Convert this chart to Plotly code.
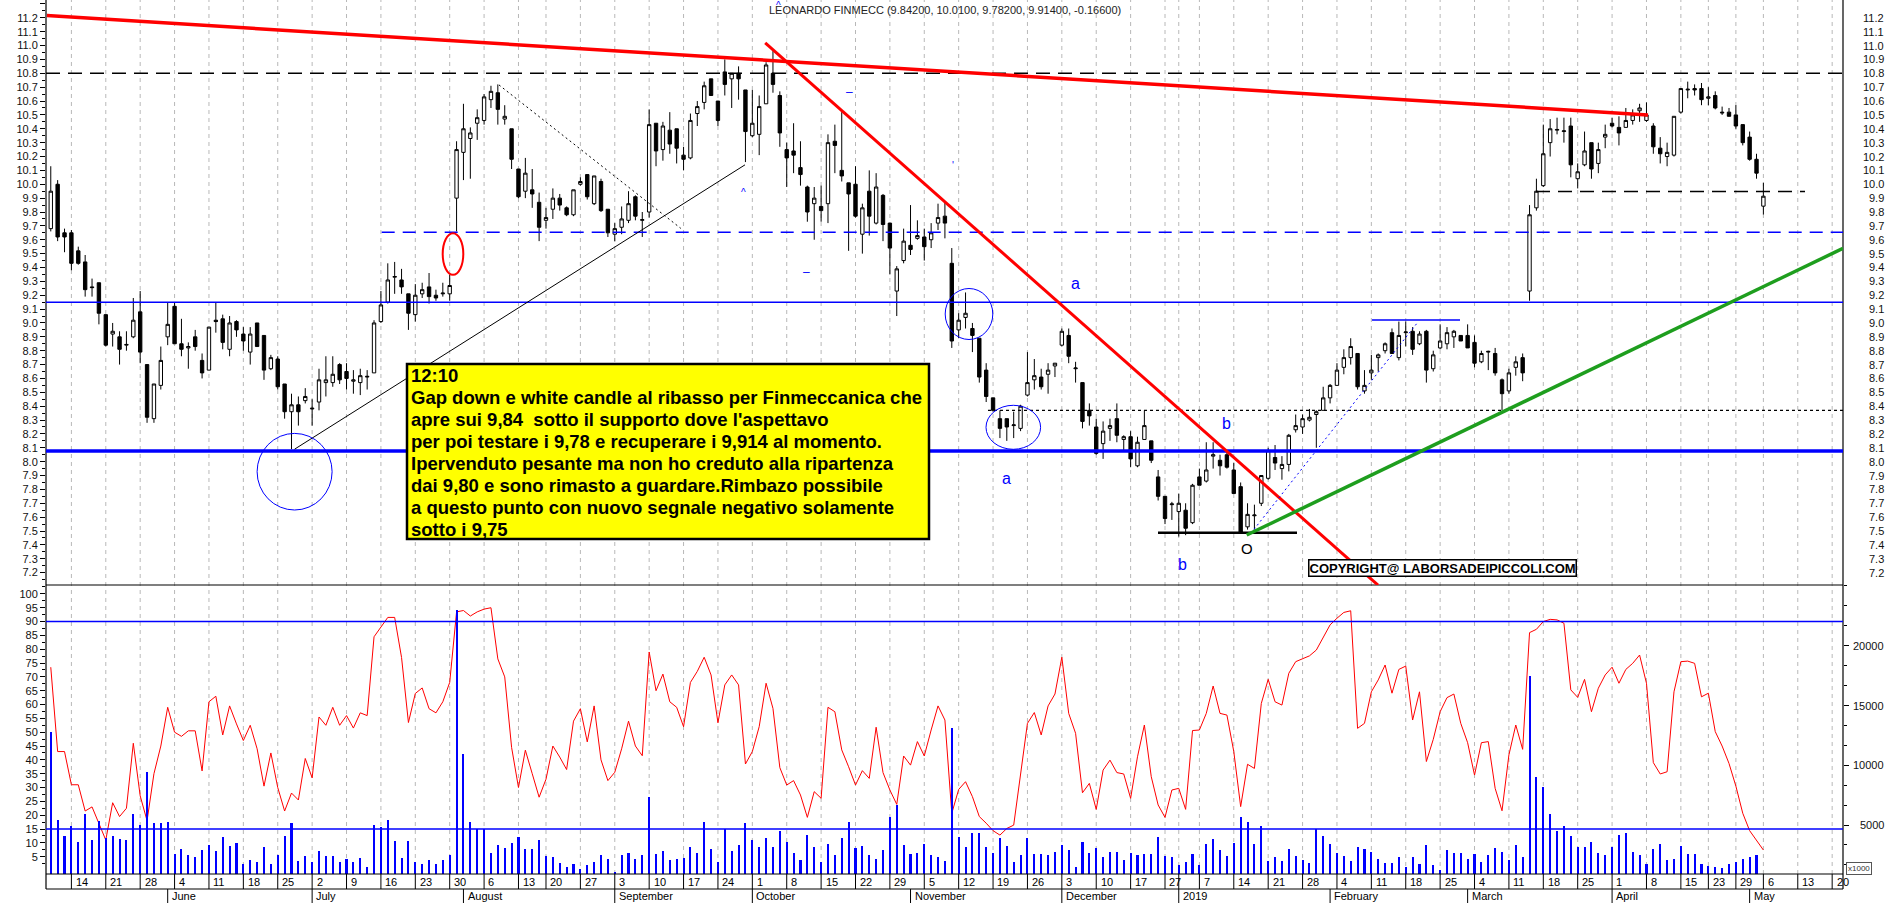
import plotly.graph_objects as go
import pandas as pd

# ---------------- data ----------------
opens = [
    9.68, 10.00, 9.65, 9.65, 9.52, 9.44, 9.26, 9.29, 9.06, 8.92,
    8.90, 8.84, 8.90, 9.08, 8.70, 8.31, 8.55, 8.90, 9.12, 8.85,
    8.82, 8.90, 8.73, 8.66, 9.02, 9.03, 8.81, 9.01, 8.92, 8.79,
    9.00, 8.91, 8.67, 8.74, 8.56, 8.36, 8.41, 8.44, 8.38, 8.43,
    8.57, 8.57, 8.70, 8.65, 8.58, 8.57, 8.61, 8.64, 9.01, 9.15,
    9.33, 9.31, 9.21, 9.06, 9.21, 9.26, 9.20, 9.21, 9.21, 9.90,
    10.23, 10.33, 10.44, 10.46, 10.61, 10.66, 10.47, 10.40, 10.11, 9.95,
    9.96, 9.87, 9.74, 9.82, 9.90, 9.83, 9.78, 10.00, 10.07, 9.86,
    10.02, 9.82, 9.64, 9.69, 9.74, 9.91, 9.74, 9.80, 10.44, 10.25,
    10.39, 10.40, 10.21, 10.19, 10.51, 10.59, 10.76, 10.60, 10.81, 10.76,
    10.80, 10.68, 10.35, 10.36, 10.58, 10.80, 10.64, 10.25, 10.24, 10.12,
    9.98, 9.86, 9.84, 9.86, 10.31, 10.10, 10.01, 10.00, 9.64, 9.95,
    9.72, 9.92, 9.72, 9.23, 9.45, 9.56, 9.61, 9.62, 9.60, 9.72,
    9.77, 9.43, 8.95, 9.04, 8.96, 8.89, 8.66, 8.46, 8.31, 8.31,
    8.26, 8.24, 8.48, 8.59, 8.61, 8.63, 8.69, 8.84, 8.91, 8.67,
    8.57, 8.37, 8.25, 8.13, 8.24, 8.31, 8.16, 8.18, 7.97, 8.16,
    8.15, 7.89, 7.75, 7.69, 7.64, 7.65, 7.56, 7.89, 7.86, 8.04,
    8.01, 8.05, 7.94, 7.82, 7.53, 7.61, 7.70, 7.88, 8.03, 7.95,
    7.98, 8.23, 8.25, 8.30, 8.34, 8.37, 8.46, 8.55, 8.68, 8.75,
    8.78, 8.51, 8.64, 8.75, 8.80, 8.93, 8.75, 8.93, 8.94, 8.85,
    8.94, 8.67, 8.82, 8.85, 8.90, 8.91, 8.91, 8.86, 8.72, 8.79,
    8.78, 8.59, 8.51, 8.68, 8.75, 9.23, 9.83, 9.99, 10.30, 10.39,
    10.38, 10.42, 10.04, 10.14, 10.30, 10.15, 10.34, 10.44, 10.41, 10.41,
    10.46, 10.53, 10.46, 10.42, 10.26, 10.20, 10.21, 10.52, 10.68, 10.69,
    10.69, 10.62, 10.64, 10.52, 10.52, 10.50, 10.43, 10.34, 10.18, 9.842,
]
highs = [
    10.13, 10.03, 9.68, 9.67, 9.55, 9.49, 9.32, 9.29, 9.06, 9.00,
    8.94, 8.94, 9.18, 9.23, 8.70, 8.56, 8.83, 9.15, 9.15, 9.03,
    8.86, 8.95, 8.78, 8.97, 9.15, 9.06, 9.05, 9.02, 8.97, 8.97,
    9.00, 8.91, 8.77, 8.76, 8.56, 8.49, 8.47, 8.53, 8.45, 8.67,
    8.76, 8.76, 8.71, 8.71, 8.66, 8.67, 8.66, 9.02, 9.23, 9.43,
    9.44, 9.39, 9.21, 9.28, 9.29, 9.36, 9.24, 9.29, 9.35, 10.31,
    10.58, 10.41, 10.54, 10.65, 10.71, 10.72, 10.57, 10.40, 10.11, 10.19,
    10.11, 9.94, 9.83, 9.97, 9.93, 9.84, 9.96, 10.05, 10.07, 10.06,
    10.04, 9.82, 9.72, 9.84, 9.95, 9.92, 9.80, 10.54, 10.44, 10.45,
    10.52, 10.40, 10.27, 10.51, 10.60, 10.74, 10.76, 10.60, 10.90, 10.80,
    10.85, 10.68, 10.68, 10.64, 10.88, 10.96, 10.67, 10.30, 10.44, 10.31,
    9.99, 9.98, 9.99, 10.36, 10.43, 10.52, 10.01, 10.13, 9.86, 10.10,
    10.08, 9.93, 9.72, 9.41, 9.68, 9.85, 9.74, 9.68, 9.72, 9.86,
    9.87, 9.54, 9.07, 9.22, 9.00, 8.89, 8.71, 8.46, 8.37, 8.31,
    8.36, 8.41, 8.79, 8.74, 8.67, 8.71, 8.71, 8.96, 8.96, 8.72,
    8.57, 8.42, 8.31, 8.29, 8.31, 8.42, 8.19, 8.22, 8.18, 8.37,
    8.15, 7.94, 7.75, 7.71, 7.77, 7.70, 7.84, 7.95, 8.14, 8.14,
    8.05, 8.07, 7.99, 7.85, 7.70, 7.69, 7.90, 8.10, 8.12, 8.04,
    8.20, 8.34, 8.34, 8.38, 8.37, 8.54, 8.56, 8.71, 8.81, 8.89,
    8.78, 8.66, 8.77, 8.78, 8.86, 8.96, 9.01, 9.01, 8.97, 8.94,
    8.95, 8.80, 8.99, 8.97, 8.95, 8.91, 8.99, 8.91, 8.80, 8.80,
    8.82, 8.60, 8.67, 8.76, 8.78, 9.85, 10.04, 10.43, 10.47, 10.48,
    10.48, 10.48, 10.15, 10.38, 10.30, 10.30, 10.43, 10.48, 10.49, 10.55,
    10.54, 10.58, 10.59, 10.44, 10.34, 10.30, 10.49, 10.69, 10.74, 10.72,
    10.73, 10.70, 10.67, 10.56, 10.55, 10.57, 10.43, 10.38, 10.22, 10.01,
]
lows = [
    9.66, 9.59, 9.51, 9.38, 9.42, 9.19, 9.19, 8.99, 8.83, 8.83,
    8.70, 8.80, 8.89, 8.71, 8.28, 8.28, 8.52, 8.84, 8.85, 8.76,
    8.67, 8.80, 8.60, 8.66, 8.93, 8.81, 8.76, 8.90, 8.80, 8.70,
    8.83, 8.59, 8.66, 8.52, 8.31, 8.09, 8.26, 8.42, 8.26, 8.37,
    8.47, 8.54, 8.56, 8.52, 8.49, 8.48, 8.52, 8.64, 9.00, 9.14,
    9.21, 9.21, 8.95, 9.01, 9.18, 9.14, 9.16, 9.19, 9.16, 9.66,
    10.03, 10.04, 10.32, 10.43, 10.55, 10.43, 10.43, 10.11, 9.90, 9.90,
    9.83, 9.59, 9.68, 9.75, 9.81, 9.77, 9.77, 9.99, 9.89, 9.85,
    9.80, 9.62, 9.59, 9.64, 9.72, 9.74, 9.62, 9.76, 10.13, 10.17,
    10.22, 10.15, 10.10, 10.18, 10.42, 10.54, 10.64, 10.42, 10.64, 10.55,
    10.61, 10.16, 10.34, 10.21, 10.58, 10.66, 10.27, 9.98, 10.08, 9.99,
    9.73, 9.60, 9.73, 9.72, 10.08, 10.02, 9.52, 9.76, 9.50, 9.63,
    9.71, 9.59, 9.35, 9.05, 9.43, 9.49, 9.60, 9.45, 9.54, 9.67,
    9.61, 8.82, 8.89, 8.96, 8.79, 8.57, 8.43, 8.36, 8.17, 8.15,
    8.17, 8.22, 8.47, 8.52, 8.52, 8.49, 8.61, 8.83, 8.71, 8.57,
    8.24, 8.26, 8.05, 8.02, 8.15, 8.14, 8.07, 7.96, 7.96, 8.16,
    7.99, 7.72, 7.55, 7.58, 7.46, 7.47, 7.55, 7.83, 7.85, 7.95,
    7.90, 7.95, 7.77, 7.49, 7.51, 7.51, 7.68, 7.87, 7.94, 7.87,
    7.93, 8.21, 8.20, 8.29, 8.10, 8.37, 8.42, 8.55, 8.63, 8.70,
    8.52, 8.49, 8.59, 8.65, 8.78, 8.78, 8.73, 8.83, 8.77, 8.84,
    8.57, 8.65, 8.81, 8.81, 8.82, 8.87, 8.82, 8.68, 8.71, 8.66,
    8.62, 8.37, 8.49, 8.62, 8.58, 9.16, 9.81, 9.98, 10.20, 10.36,
    10.30, 10.05, 9.97, 10.13, 10.04, 10.08, 10.26, 10.41, 10.28, 10.41,
    10.43, 10.45, 10.45, 10.22, 10.15, 10.13, 10.20, 10.51, 10.62, 10.64,
    10.57, 10.57, 10.54, 10.50, 10.49, 10.40, 10.28, 10.17, 10.04, 9.782,
]
closes = [
    9.95, 9.62, 9.62, 9.43, 9.43, 9.24, 9.255, 9.07, 8.84, 8.94,
    8.81, 8.845, 9.02, 8.79, 8.32, 8.56, 8.73, 8.99, 8.85, 8.81,
    8.83, 8.83, 8.64, 8.97, 9.01, 8.86, 9.00, 8.95, 8.87, 8.92,
    8.83, 8.66, 8.75, 8.54, 8.36, 8.41, 8.36, 8.47, 8.385, 8.59,
    8.59, 8.63, 8.59, 8.60, 8.59, 8.62, 8.615, 9.00, 9.13, 9.31,
    9.335, 9.26, 9.07, 9.20, 9.24, 9.19, 9.18, 9.215, 9.27, 10.25,
    10.40, 10.37, 10.48, 10.63, 10.67, 10.54, 10.49, 10.18, 9.91, 10.08,
    9.93, 9.69, 9.76, 9.90, 9.85, 9.78, 9.96, 10.02, 9.91, 10.06,
    9.81, 9.65, 9.68, 9.75, 9.86, 9.77, 9.745, 10.43, 10.24, 10.42,
    10.29, 10.26, 10.18, 10.46, 10.56, 10.71, 10.64, 10.46, 10.72, 10.80,
    10.76, 10.38, 10.44, 10.56, 10.86, 10.72, 10.37, 10.19, 10.21, 10.07,
    9.80, 9.90, 9.81, 10.30, 10.28, 10.06, 9.93, 9.77, 9.83, 9.77,
    9.98, 9.71, 9.54, 9.39, 9.59, 9.53, 9.63, 9.55, 9.65, 9.76,
    9.72, 8.87, 9.02, 9.07, 8.91, 8.61, 8.47, 8.37, 8.24, 8.25,
    8.265, 8.40, 8.57, 8.62, 8.54, 8.66, 8.71, 8.94, 8.76, 8.675,
    8.29, 8.33, 8.06, 8.22, 8.26, 8.19, 8.18, 8.02, 8.14, 8.26,
    8.01, 7.75, 7.59, 7.695, 7.70, 7.52, 7.83, 7.83, 7.94, 8.05,
    7.97, 7.96, 7.77, 7.49, 7.62, 7.615, 7.90, 8.08, 7.99, 7.98,
    8.19, 8.26, 8.31, 8.32, 8.36, 8.46, 8.55, 8.66, 8.75, 8.83,
    8.54, 8.55, 8.66, 8.77, 8.85, 8.78, 8.91, 8.935, 8.81, 8.92,
    8.66, 8.77, 8.87, 8.93, 8.94, 8.87, 8.82, 8.71, 8.78, 8.795,
    8.64, 8.49, 8.64, 8.72, 8.64, 9.78, 9.95, 10.22, 10.40, 10.395,
    10.385, 10.14, 10.09, 10.24, 10.11, 10.25, 10.36, 10.42, 10.37, 10.46,
    10.50, 10.55, 10.50, 10.27, 10.22, 10.23, 10.49, 10.69, 10.685, 10.68,
    10.61, 10.63, 10.55, 10.515, 10.49, 10.42, 10.30, 10.18, 10.08, 9.914,
]
volumes_k = [
    12.81, 5.42, 4.08, 4.92, 3.55, 5.92, 3.75, 5.37, 3.89, 4.08,
    3.83, 3.75, 5.92, 5.00, 9.41, 5.14, 5.14, 5.23, 2.58, 3.02,
    2.49, 2.30, 2.91, 3.33, 2.86, 3.97, 3.27, 3.47, 1.74, 2.07,
    1.91, 3.19, 1.74, 2.49, 4.08, 5.14, 1.99, 2.41, 1.94, 2.86,
    2.41, 2.41, 1.91, 2.13, 1.94, 2.24, 1.52, 5.00, 4.81, 5.42,
    3.64, 2.24, 3.64, 1.88, 1.77, 2.07, 1.77, 2.07, 2.47, 22.99,
    10.94, 5.23, 4.64, 4.64, 2.69, 3.33, 3.08, 3.47, 3.97, 2.97,
    2.97, 3.75, 2.41, 2.33, 1.82, 1.52, 1.71, 1.29, 1.66, 1.91,
    2.47, 2.13, 1.04, 2.47, 2.63, 2.13, 2.47, 7.32, 2.58, 2.83,
    2.07, 2.19, 2.21, 3.19, 2.63, 5.27, 3.02, 1.94, 4.64, 2.86,
    3.33, 5.14, 3.75, 3.19, 3.89, 3.19, 4.50, 3.61, 2.63, 2.07,
    4.17, 3.19, 1.94, 3.39, 2.47, 3.89, 5.25, 3.11, 3.25, 2.47,
    2.13, 2.91, 5.70, 6.67, 3.30, 2.55, 2.63, 3.39, 2.47, 2.36,
    1.99, 13.09, 3.97, 3.19, 4.31, 4.31, 3.19, 2.63, 3.89, 3.25,
    1.94, 2.47, 3.89, 2.55, 2.55, 2.47, 2.75, 3.33, 2.91, 1.52,
    3.55, 2.63, 3.05, 2.36, 2.75, 2.75, 2.07, 2.63, 2.47, 2.58,
    2.58, 4.03, 2.41, 2.30, 1.66, 1.91, 2.55, 1.66, 3.42, 3.86,
    2.91, 2.41, 3.53, 5.70, 5.25, 3.39, 4.95, 2.02, 2.30, 1.99,
    2.97, 2.41, 2.07, 1.85, 4.64, 4.08, 3.39, 2.63, 2.41, 1.99,
    3.19, 2.97, 2.77, 2.13, 1.85, 1.85, 2.30, 1.52, 2.30, 1.74,
    3.33, 1.66, 1.24, 2.91, 2.69, 2.63, 2.16, 2.55, 1.91, 2.47,
    3.05, 2.77, 2.05, 3.33, 2.30, 17.47, 9.05, 8.21, 5.92, 4.50,
    4.92, 4.08, 3.19, 3.19, 3.55, 2.63, 2.47, 3.19, 4.17, 4.36,
    2.77, 2.47, 1.74, 2.97, 3.42, 2.07, 2.19, 3.25, 2.58, 2.55,
    1.74, 1.57, 1.52, 1.41, 1.74, 1.94, 2.13, 2.30, 2.47, 0.0,
]
oscillator = [
    73.5, 43, 43, 31, 31, 21.5, 23, 17, 11, 24.5,
    19.5, 22.5, 46, 27, 18, 35, 45, 59, 50, 48.5,
    50.5, 50.5, 36, 61, 63, 49, 59.5, 53, 47, 52.5,
    44, 30.5, 42.5, 30, 21.5, 28, 25.5, 40.5, 33.5, 55.5,
    52.5, 59, 52.5, 56, 51.5, 57, 56, 84.5, 88, 91.5,
    91.5, 77, 53.5, 64, 66, 58.5, 57, 61, 68, 93.5,
    94, 92, 93.5, 94.5, 95, 76.5, 70, 44.5, 30, 43.5,
    35, 26.5, 33, 45, 41, 36.5, 54, 58.5, 46.5, 59.5,
    40, 32.5, 35.5, 44, 54, 45, 41.5, 79, 65, 71,
    61, 59, 52, 68, 72, 77.1, 70.7, 53.4, 67.1, 70.7,
    67.1, 38.5, 43.0, 52.0, 67.7, 58.6, 37.2, 30.9, 32.5, 27.3,
    19.2, 28.5, 26.1, 59.0, 57.4, 43.6, 37.5, 30.9, 36.1, 33.3,
    51.8, 35.4, 29.1, 23.9, 41.4, 38.1, 46.6, 41.4, 50.8, 59.5,
    54.4, 20.7, 29.3, 32.1, 26.7, 19.5, 17.1, 14.4, 12.8, 15.2,
    16.4, 33.9, 53.2, 57.1, 49.0, 59.5, 63.8, 77.1, 56.8, 49.6,
    28.1, 31.5, 22.1, 36.3, 39.9, 35.4, 34.9, 26.1, 41.1, 52.6,
    33.9, 23.7, 19.2, 29.1, 29.7, 22.1, 50.6, 50.8, 56.8, 66.7,
    56.8, 56.2, 43.0, 23.1, 38.4, 36.9, 60.4, 69.1, 61.0, 59.8,
    71.3, 75.5, 76.7, 77.6, 79.7, 84.5, 88.8, 91.2, 93.3, 93.9,
    51.4, 53.2, 64.6, 68.9, 74.3, 64.1, 72.7, 73.9, 54.4, 64.6,
    39.4, 47.4, 57.4, 62.5, 63.8, 53.2, 46.2, 34.5, 46.2, 46.6,
    29.7, 21.6, 41.8, 52.6, 43.8, 86.0, 87.2, 90.0, 90.8, 90.6,
    89.4, 65.3, 62.6, 69.1, 57.4, 65.9, 70.7, 73.5, 67.7, 72.7,
    74.9, 77.9, 67.7, 39.0, 34.9, 35.7, 64.6, 75.5, 75.7, 74.9,
    62.8, 64.1, 50.2, 45.0, 38.7, 30.5, 20.7, 14.4, 11.0, 7.4,
]
price_ticks = [round(7.2 + 0.1 * i, 1) for i in range(41)]
osc_ticks = list(range(5, 101, 5))
vol_ticks = [5000, 10000, 15000, 20000]
osc_levels = [90, 15]
title_text = "LEONARDO FINMECC (9.84200, 10.0100, 9.78200, 9.91400, -0.16600)"
note_lines = [
    "12:10",
    "Gap down e white candle al ribasso per Finmeccanica che",
    "apre sui 9,84\u00a0 sotto il supporto dove l'aspettavo",
    "per poi testare i 9,78 e recuperare i 9,914 al momento.",
    "Ipervenduto pesante ma non ho creduto alla ripartenza",
    "dai 9,80 e sono rimasto a guardare.Rimbazo possibile",
    "a questo punto con nuovo segnale negativo solamente",
    "sotto i 9,75",
]
copyright_text = "COPYRIGHT@ LABORSADEIPICCOLI.COM"

# ---------------- trading calendar (Borsa Italiana) ----------------
holidays = pd.to_datetime(["2018-08-15", "2018-12-24", "2018-12-25", "2018-12-26",
                           "2018-12-31", "2019-01-01", "2019-04-19", "2019-04-22",
                           "2019-05-01"])
days = [d for d in pd.bdate_range("2018-05-09", "2019-05-24") if d not in set(holidays)]
n = len(opens)
xi = list(range(n))

# ---------------- geometry (pixels of the 1890x903 page) ----------------
W, H = 1890, 903
L, R = 46, 1843
PB, SEP = 874, 585
X0PX, DXPX = 50.77, 6.878
xr = [(L - X0PX) / DXPX, (R - X0PX) / DXPX]


def price_at(Y):
    return 10.8 - (Y - 73.3) / 138.7


def osc_at(Y):
    return (870.5 - Y) / 2.766


def vol_at(Y):
    return (884.8 - Y) / 0.011953


def px(X):
    return (X - L) / (R - L)


def py(Y):
    return (PB - Y) / PB


def ix(X):
    return (X - X0PX) / DXPX


dom_split = py(SEP)
FONT = "Liberation Sans, Arial, sans-serif"

fig = go.Figure()
fig.add_trace(go.Candlestick(
    x=xi, open=opens, high=highs, low=lows, close=closes,
    increasing=dict(line=dict(color="black", width=1), fillcolor="white"),
    decreasing=dict(line=dict(color="black", width=1), fillcolor="black"),
    whiskerwidth=0, xaxis="x", yaxis="y", showlegend=False, hoverinfo="skip"))
fig.add_trace(go.Bar(x=xi, y=[v * 1000 for v in volumes_k], yaxis="y3", width=0.3,
                     marker=dict(color="#0000ff", line=dict(width=0)),
                     showlegend=False, hoverinfo="skip"))
fig.add_trace(go.Scatter(x=xi, y=oscillator, yaxis="y2", mode="lines",
                         line=dict(color="#ff0000", width=1), showlegend=False,
                         hoverinfo="skip"))

shapes = []


def line(x0, y0, x1, y1, color, width=1, dash="solid", xref="x", yref="y"):
    shapes.append(dict(type="line", x0=x0, y0=y0, x1=x1, y1=y1, xref=xref, yref=yref,
                       line=dict(color=color, width=width, dash=dash), layer="above"))


# weekly grid + tick marks, month separators
week_starts = [i for i in range(1, len(days))
               if days[i].isocalendar()[1] != days[i - 1].isocalendar()[1] and i <= xr[1]]
month_starts = [i for i in range(1, len(days)) if days[i].month != days[i - 1].month and i < n]
for i in week_starts:
    shapes.append(dict(type="line", x0=i, x1=i, y0=0, y1=1, xref="x", yref="paper",
                       line=dict(color="#b8b8b8", width=1, dash="4px,4px"), layer="below"))
    line(i, py(889), i, py(PB), "black", 1, xref="x", yref="paper")
for i in month_starts:
    line(i, py(903), i, py(889), "black", 1, xref="x", yref="paper")

# frame
line(0, py(0), 0, py(889), "black", 1.2, xref="paper", yref="paper")
line(1, py(0), 1, py(889), "black", 1.2, xref="paper", yref="paper")
line(0, py(SEP), 1, py(SEP), "black", 1.2, xref="paper", yref="paper")
line(0, py(PB), 1, py(PB), "black", 1.2, xref="paper", yref="paper")
line(0, py(889), 1, py(889), "black", 1.2, xref="paper", yref="paper")

# horizontal levels on the price panel
line(0, 10.8, 1, 10.8, "black", 1.5, "14px,8px", xref="paper")
line(ix(381.7), 9.654, xr[1], 9.654, "#0000ff", 1.5, "13px,8px")
line(0, 9.149, 1, 9.149, "#0000ff", 1.5, xref="paper")
line(0, 8.077, 1, 8.077, "#0000ff", 3.5, xref="paper")
line(ix(988), 8.37, xr[1], 8.37, "black", 1.2, "3px,3px")
line(ix(1536), 9.947, ix(1805), 9.947, "black", 1.5, "14px,8px")
line(ix(1372), 9.022, ix(1460), 9.022, "#0000ff", 1.5)
line(ix(1158), 7.488, ix(1297), 7.488, "black", 2.5)

# trend lines
line(ix(46.9), 11.216, ix(1648), 10.50, "#ff0000", 3.5)
line(ix(765.2), 11.02, ix(1378), 7.11, "#ff0000", 3)
line(ix(294.6), 8.09, ix(745), 10.14, "black", 1)
line(ix(499), 10.716, ix(680.8), 9.682, "black", 1, "2px,3px")
line(ix(1254), 7.512, ix(1417), 8.998, "#0000ff", 1, "2px,3px")
line(ix(1246.7), 7.471, xr[1], 9.538, "#1e9e1e", 3.5)

# lower panel levels
for lv in osc_levels:
    shapes.append(dict(type="line", x0=0, x1=1, y0=lv, y1=lv, xref="paper", yref="y2",
                       line=dict(color="#0000ff", width=1.5), layer="above"))


def ellipse(cx, cy, rx, ry, color, width=1):
    shapes.append(dict(type="circle", xref="x", yref="y",
                       x0=ix(cx - rx), x1=ix(cx + rx),
                       y0=price_at(cy + ry), y1=price_at(cy - ry),
                       line=dict(color=color, width=width), layer="above"))


ellipse(453, 254, 10.3, 20.8, "#ff0000", 2)
ellipse(294.6, 471.7, 37.5, 38.3, "#0000ff", 1)
ellipse(969, 314, 23.8, 25.5, "#0000ff", 1)
ellipse(1013.3, 427.3, 27.3, 22, "#0000ff", 1)

# yellow comment box (drawn over the lines)
shapes.append(dict(type="rect", xref="paper", yref="paper", x0=px(407), x1=px(929),
                   y0=py(539), y1=py(364), fillcolor="#ffff00",
                   line=dict(color="black", width=2.5), layer="above"))

annotations = []


def text(x, y, s, size=11, color="black", xanchor="center", yanchor="middle",
         xref="paper", yref="paper", **kw):
    d = dict(x=x, y=y, text=s, xref=xref, yref=yref, showarrow=False,
             xanchor=xanchor, yanchor=yanchor, font=dict(family=FONT, size=size, color=color))
    d.update(kw)
    annotations.append(d)


# right-hand tick labels (right aligned like the original)
for v in price_ticks:
    text(px(1886), v, f"{v:.1f}", 11, "#111", xanchor="right", yref="y")
for v in vol_ticks:
    text(px(1886), v, f"{v}", 11, "#111", xanchor="right", yref="y3")
text(px(1846), py(868), "x1000", 8, "#333", xanchor="left", bordercolor="#555",
     borderwidth=1, borderpad=1, bgcolor="white")

# date labels
for i in week_starts:
    d = days[i]
    if d.month == 1 and d.day <= 3:
        continue
    text(i + 0.35, py(881.5), str(d.day), 11, "black", xanchor="left", xref="x")
for i in month_starts:
    d = days[i]
    lab = str(d.year) if d.month == 1 else d.strftime("%B")
    text(i + 0.3, py(896), lab, 11, "black", xanchor="left", xref="x")

# title
text(px(945), py(10), title_text, 11, "#222")

# annotation marks on the price panel
text(ix(1075), price_at(283), "a", 16, "#0000ff", xref="x", yref="y")
text(ix(1006.7), price_at(478), "a", 16, "#0000ff", xref="x", yref="y")
text(ix(1226.7), price_at(423), "b", 16, "#0000ff", xref="x", yref="y")
text(ix(1182.7), price_at(564), "b", 16, "#0000ff", xref="x", yref="y")
text(ix(1246.7), price_at(548), "O", 15, "black", xref="x", yref="y")
text(ix(849), price_at(91.7), "\u2013", 12, "#0000ff", xref="x", yref="y")
text(ix(806.7), price_at(272.3), "\u2013", 12, "#0000ff", xref="x", yref="y")
text(ix(743.8), price_at(192.7), "^", 10, "#0000ff", xref="x", yref="y")
text(ix(778.6), price_at(5), "^", 10, "#0000ff", xref="x", yref="y")
text(ix(952.7), price_at(165), "'", 10, "#0000ff", xref="x", yref="y")

# comment text, one annotation per line
for k, s in enumerate(note_lines):
    text(px(410), py(376 + k * 21.86), "<b>" + s + "</b>", 18.5, "black",
         xanchor="left", yanchor="middle", borderpad=0)

# copyright box
text(px(1308), py(559), "<b>" + copyright_text + "</b>", 13, "black",
     xanchor="left", yanchor="top", bgcolor="white", bordercolor="black",
     borderwidth=1.5, borderpad=0)

axis_common = dict(showgrid=False, zeroline=False, showline=False, fixedrange=True)
fig.update_layout(
    width=W, height=H, autosize=False,
    margin=dict(l=L, r=W - R, t=0, b=H - PB, pad=0, autoexpand=False),
    paper_bgcolor="white", plot_bgcolor="white",
    font=dict(family=FONT, size=11, color="#111"),
    showlegend=False, bargap=0,
    xaxis=dict(domain=[0, 1], range=xr, anchor="y2", showticklabels=False, ticks="",
               rangeslider=dict(visible=False), **axis_common),
    yaxis=dict(domain=[dom_split, 1], range=[price_at(SEP), price_at(0)], anchor="x",
               side="left", tickmode="linear", tick0=7.2, dtick=0.1, tickformat=".1f",
               ticks="outside", ticklen=5, tickcolor="black", tickwidth=1,
               tickfont=dict(size=11, color="#111"),
               minor=dict(tick0=7.2, dtick=0.05, ticks="outside", ticklen=3, tickcolor="black"),
               **axis_common),
    yaxis4=dict(overlaying="y", side="right", anchor="x", range=[price_at(SEP), price_at(0)],
                tickmode="linear", tick0=7.2, dtick=0.1, ticks="outside", ticklen=5,
                tickcolor="black", showticklabels=False,
                minor=dict(tick0=7.2, dtick=0.05, ticks="outside", ticklen=3, tickcolor="black"),
                **axis_common),
    yaxis2=dict(domain=[0, dom_split], range=[osc_at(PB), osc_at(SEP)], anchor="x",
                side="left", tickmode="array", tickvals=osc_ticks,
                ticktext=[str(v) for v in osc_ticks], ticks="outside", ticklen=5,
                tickcolor="black", tickfont=dict(size=11, color="#111"),
                minor=dict(tick0=2.5, dtick=5, ticks="outside", ticklen=3, tickcolor="black"),
                **axis_common),
    yaxis3=dict(overlaying="y2", side="right", anchor="x", range=[vol_at(PB), vol_at(SEP)],
                tickmode="array", tickvals=vol_ticks, ticks="outside", ticklen=5,
                tickcolor="black", showticklabels=False,
                minor=dict(tick0=0, dtick=5000 / 3, ticks="outside", ticklen=3, tickcolor="black"),
                **axis_common),
    shapes=shapes, annotations=annotations,
)
fig.write_html("out.html", config=dict(displayModeBar=False, staticPlot=True),
               post_script="document.body.style.margin='0';document.body.style.overflow='hidden';")
